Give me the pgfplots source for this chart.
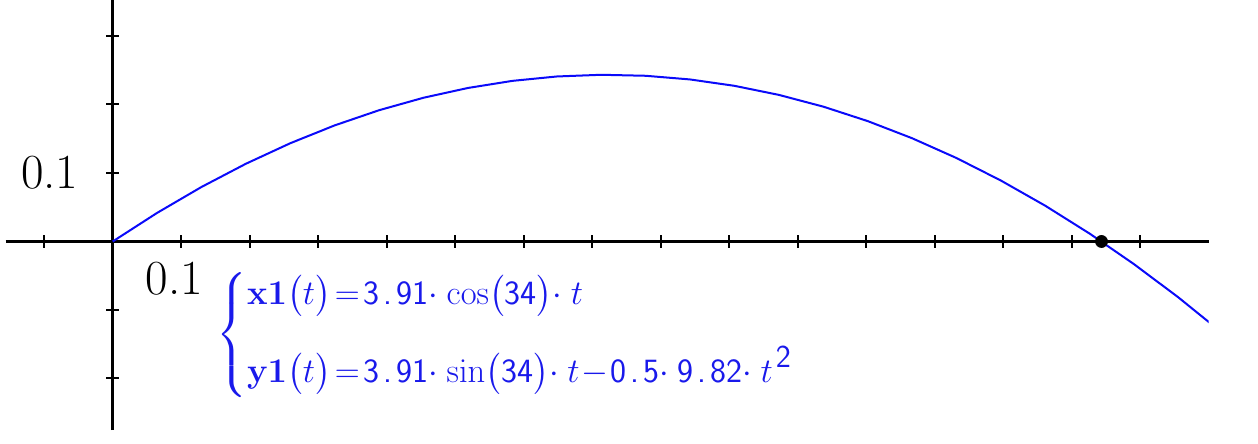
\documentclass[border=0pt]{standalone}
\usepackage{amsmath}
\usepackage{pgfplots}
\pgfplotsset{compat=1.18}
\definecolor{curveblue}{RGB}{10,10,250}
\definecolor{textblue}{RGB}{25,25,235}
\newcommand{\n}[1]{\text{\sffamily #1}}
\newcommand{\dt}{\makebox[0.5em]{.}}
\newcommand{\md}{{\cdot}\mskip 4.5mu}
\begin{document}
\begin{tikzpicture}
\useasboundingbox (0,0) rectangle (629pt,222pt);
\begin{axis}[
  at={(56.35pt,101.25pt)}, anchor=origin,
  x=342.5pt, y=342.5pt,
  xmin=-0.1562, xmax=1.6, ymin=-0.2752, ymax=0.3526,
  axis lines=middle,
  axis line style={-, line width=1.4pt, black},
  every inner x axis line/.append style={-},
  every inner y axis line/.append style={-},
  xtick={-0.1,0.1,0.2,0.3,0.4,0.5,0.6,0.7,0.8,0.9,1.0,1.1,1.2,1.3,1.4,1.5},
  ytick={-0.2,-0.1,0.1,0.2,0.3},
  xticklabels={}, yticklabels={},
  tick align=center,
  major tick length=6.5pt,
  tick style={line width=1pt, black},
  clip=true,
]
\addplot[curveblue, line width=1pt] coordinates {
(0,0)
(0.06483,0.04176)
(0.12966,0.07960)
(0.19449,0.11351)
(0.25932,0.14349)
(0.32415,0.16954)
(0.38898,0.19167)
(0.45382,0.20987)
(0.51865,0.22413)
(0.58348,0.23448)
(0.64831,0.24089)
(0.71314,0.24337)
(0.77797,0.24193)
(0.84280,0.23656)
(0.90763,0.22726)
(0.97246,0.21403)
(1.03729,0.19688)
(1.10212,0.17579)
(1.16695,0.15078)
(1.23178,0.12184)
(1.29661,0.08898)
(1.36144,0.05218)
(1.42627,0.01146)
(1.49110,-0.03319)
(1.55593,-0.08177)
(1.62076,-0.13428)
};
\addplot[only marks, mark=*, mark size=3pt, black] coordinates {(1.4435,0)};
\node[font=\fontsize{24.5}{28}\selectfont, inner sep=0pt] at (axis cs:0.1,0) [xshift=-3.5pt, yshift=-18.5pt] {0.1};
\node[font=\fontsize{24.5}{28}\selectfont, inner sep=0pt] at (axis cs:0,0.1) [xshift=-31.5pt] {0.1};
\end{axis}
\node[anchor=west, inner sep=0pt, text=textblue, font=\fontsize{17}{19}\selectfont] at (108pt,54.5pt)
  {$\left\{\begin{array}{@{}l@{}}
   \mathbf{x1}\big(t\big)\!=\!\n{3\dt91}\md\mathrm{cos}\big(\n{34}\big)\md t\\[15pt]
   \mathbf{y1}\big(t\big)\!=\!\n{3\dt91}\md\mathrm{sin}\big(\n{34}\big)\md t\!-\!\n{0\dt5}\md\n{9\dt82}\md t\kern1.5pt\raisebox{7.5pt}{\sffamily\fontsize{16}{16}\selectfont 2}
   \end{array}\right.$};
\end{tikzpicture}
\end{document}
